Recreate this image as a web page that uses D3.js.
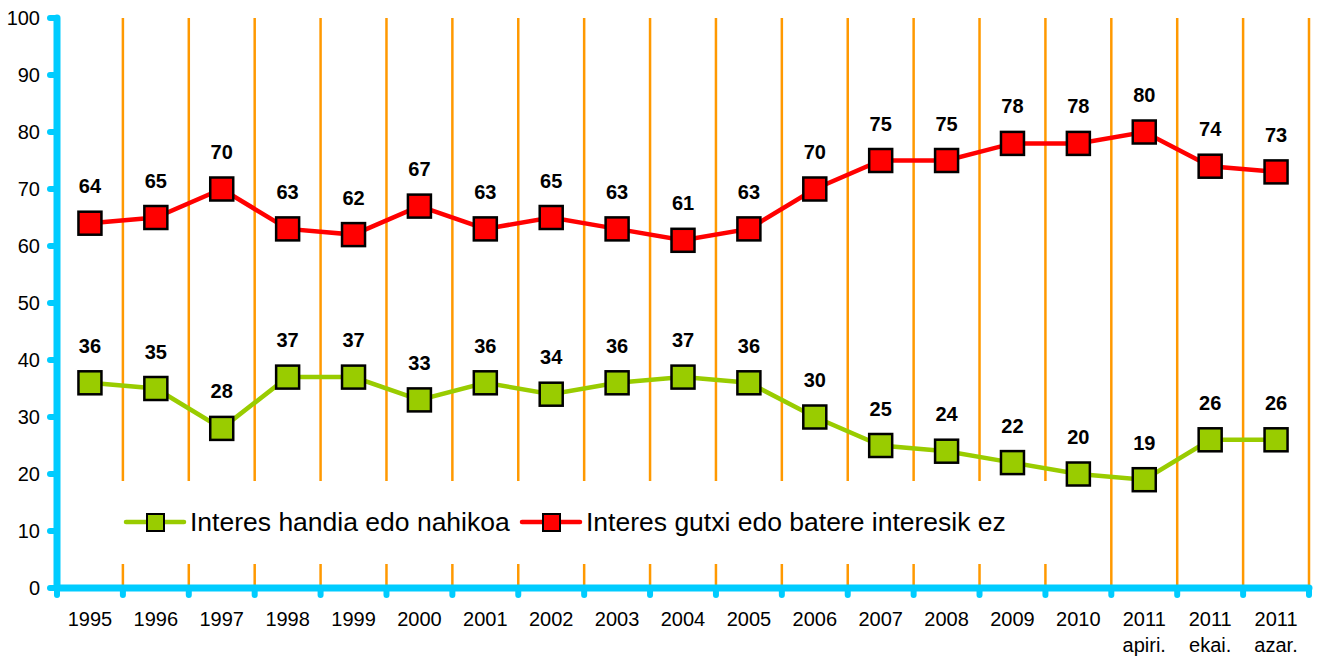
<!DOCTYPE html>
<html>
<head>
<meta charset="utf-8">
<script src="https://cdn.jsdelivr.net/npm/d3@7"></script>
<style>
  body { margin: 0; background: #fff; }
  text { font-family: Arial, "Liberation Sans", sans-serif; }
</style>
</head>
<body>
<div id="chart"></div>
<script>
// data
var years = ["1995", "1996", "1997", "1998", "1999", "2000", "2001", "2002", "2003", "2004",
  "2005", "2006", "2007", "2008", "2009", "2010", "2011|apiri.", "2011|ekai.", "2011|azar."];
var handia = [36, 35, 28, 37, 37, 33, 36, 34, 36, 37, 36, 30, 25, 24, 22, 20, 19, 26, 26];
var gutxi = [64, 65, 70, 63, 62, 67, 63, 65, 63, 61, 63, 70, 75, 75, 78, 78, 80, 74, 73];
var yTicks = [0, 10, 20, 30, 40, 50, 60, 70, 80, 90, 100];
var seriesNames = ["Interes handia edo nahikoa", "Interes gutxi edo batere interesik ez"];

var svgWidth = 1319;
var svgHeight = 660;
var margin = { top: 18, left: 57 };
var width = 1309 - margin.left;
var height = 588 - margin.top;

var svg = d3.select("#chart").append("svg")
  .attr("width", svgWidth)
  .attr("height", svgHeight);

var g = svg.append("g")
  .attr("transform", `translate(${margin.left}, ${margin.top})`);

var x = d3.scaleBand().domain(years).range([0, width]);
var y = d3.scaleLinear().domain([0, 100]).range([height, 0]);

// orange separators
g.selectAll(".sep")
  .data(years)
  .enter().append("line")
  .attr("x1", d => x(d) + x.bandwidth())
  .attr("x2", d => x(d) + x.bandwidth())
  .attr("y1", 0)
  .attr("y2", height)
  .attr("stroke", "#ff9900")
  .attr("stroke-width", 2.5);

// legend box (white, hides the separators)
var legend = g.append("g");
legend.append("rect")
  .attr("x", 60)
  .attr("y", 463)
  .attr("width", 950)
  .attr("height", 83)
  .attr("fill", "#fff");

var axisColor = "#00ccff";

// y axis
var yAxis = g.append("g");
yAxis.append("line")
  .attr("x1", 0).attr("x2", 0)
  .attr("y1", 0).attr("y2", height)
  .attr("stroke", axisColor).attr("stroke-width", 7).attr("stroke-linecap", "round");
yAxis.selectAll(".tk").data(yTicks).enter().append("line")
  .attr("x1", -7).attr("x2", 0)
  .attr("y1", d => y(d)).attr("y2", d => y(d))
  .attr("stroke", axisColor).attr("stroke-width", 6).attr("stroke-linecap", "round");
yAxis.selectAll(".lb").data(yTicks).enter().append("text")
  .attr("x", -17)
  .attr("y", d => y(d))
  .attr("dy", "0.35em")
  .attr("text-anchor", "end")
  .attr("font-size", 20)
  .attr("fill", "#000")
  .text(d => d);

// x axis
var xAxis = g.append("g").attr("transform", `translate(0, ${height})`);
xAxis.append("line")
  .attr("x1", 0).attr("x2", width)
  .attr("stroke", axisColor).attr("stroke-width", 7).attr("stroke-linecap", "round");
xAxis.selectAll(".tk").data([""].concat(years)).enter().append("line")
  .attr("x1", (d, i) => i * x.bandwidth())
  .attr("x2", (d, i) => i * x.bandwidth())
  .attr("y1", 0).attr("y2", 7)
  .attr("stroke", axisColor).attr("stroke-width", 6).attr("stroke-linecap", "round");
var xl = xAxis.selectAll(".lb").data(years).enter().append("text")
  .attr("text-anchor", "middle")
  .attr("font-size", 20)
  .attr("fill", "#000");
xl.each(function(d) {
  var parts = d.split("|");
  var t = d3.select(this);
  parts.forEach(function(p, i) {
    t.append("tspan")
      .attr("x", x(d) + x.bandwidth() / 2)
      .attr("y", 38 + i * 26)
      .text(p);
  });
});

// series
var series = [
  { values: handia, color: "#99cc00" },
  { values: gutxi, color: "#ff0000" }
];
var cx = (d, i) => x(years[i]) + x.bandwidth() / 2;
var line = d3.line().x(cx).y(d => y(d));
var ms = 23;

series.forEach(function(s) {
  g.append("path")
    .datum(s.values)
    .attr("d", line)
    .attr("fill", "none")
    .attr("stroke", s.color)
    .attr("stroke-width", 4.5);
  g.selectAll(null).data(s.values).enter().append("rect")
    .attr("x", (d, i) => cx(d, i) - ms / 2)
    .attr("y", d => y(d) - ms / 2)
    .attr("width", ms).attr("height", ms)
    .attr("fill", s.color)
    .attr("stroke", "#000").attr("stroke-width", 2.5);
  g.selectAll(null).data(s.values).enter().append("text")
    .attr("x", (d, i) => cx(d, i))
    .attr("y", d => y(d) - 37)
    .attr("dy", "0.35em")
    .attr("text-anchor", "middle")
    .attr("font-size", 20)
    .attr("font-weight", "bold")
    .attr("fill", "#000")
    .text(d => d);
});

// legend items
var legendX = [69, 465];
series.forEach(function(s, i) {
  var lx = legendX[i], ly = 504;
  legend.append("line")
    .attr("x1", lx).attr("x2", lx + 58)
    .attr("y1", ly).attr("y2", ly)
    .attr("stroke", s.color).attr("stroke-width", 4.5).attr("stroke-linecap", "round");
  legend.append("rect")
    .attr("x", lx + 21).attr("y", ly - 8)
    .attr("width", 17).attr("height", 17)
    .attr("fill", s.color).attr("stroke", "#000").attr("stroke-width", 2);
  legend.append("text")
    .attr("x", lx + 64).attr("y", ly)
    .attr("dy", "0.35em")
    .attr("font-size", 26.5)
    .attr("fill", "#000")
    .text(seriesNames[i]);
});
</script>
</body>
</html>
